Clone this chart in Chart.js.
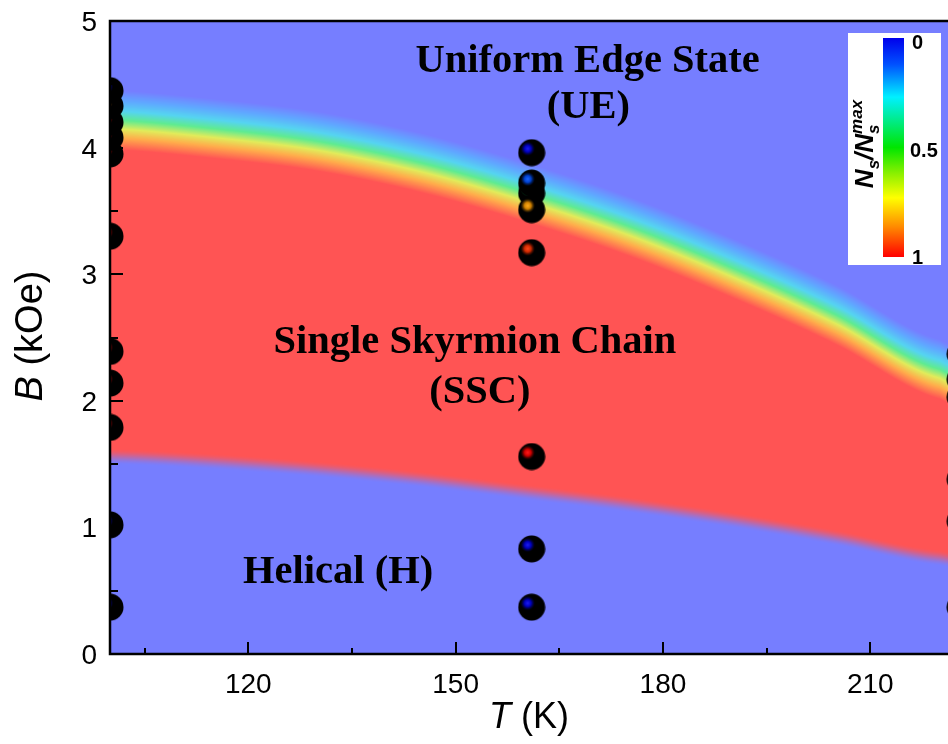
<!DOCTYPE html>
<html>
<head>
<meta charset="utf-8">
<script src="https://cdn.jsdelivr.net/npm/chart.js@4"></script>
<style>
html, body { margin: 0; padding: 0; overflow: hidden; background: #fff; }
canvas { display: block; }
</style>
</head>
<body>
<canvas id="phase" width="974" height="744"></canvas>
<script>
// phase boundaries (T in K, B in kOe)
const boundaryT = [100, 115, 130, 145, 160, 175, 190, 205, 220];
const upperB = [4.22, 4.15, 4.05, 3.88, 3.65, 3.38, 3.05, 2.68, 2.25];
const lowerB = [1.56, 1.52, 1.46, 1.38, 1.28, 1.18, 1.06, 0.92, 0.76];

// measured points, with their Ns/Ns_max
const measuredT = [100, 161, 223];
const fieldsT100 = [0.37, 1.02, 1.79, 2.14, 2.39, 3.3, 3.95, 4.08, 4.2, 4.33, 4.45];
const ratioT100 = [0, 0, 1, 1, 1, 1, 1, 1, 1, 0.85, 0];
const fieldsT161 = [0.37, 0.83, 1.56, 3.17, 3.64, 3.51, 3.72, 3.96];
const ratioT161 = [0, 0, 1, 0.95, 0.4, 0.84, 0.12, 0];
const fieldsT223 = [0.37, 1.05, 1.38, 2.03, 2.17, 2.37];
const ratioT223 = [0, 1, 1, 0.95, 0.6, 0.2];

// axis ticks
const xTicks = [120, 150, 180, 210];
const xMinor = [105, 135, 165, 195];
const yTicks = [0, 1, 2, 3, 4, 5];
const yMinor = [0.5, 1.5, 2.5, 3.5, 4.5];

const labels = [
  { text: 'Uniform Edge State', T: 169.1, B: 4.60 },
  { text: '(UE)', T: 169.2, B: 4.234 },
  { text: 'Single Skyrmion Chain', T: 152.8, B: 2.378 },
  { text: '(SSC)', T: 153.5, B: 1.983 },
  { text: 'Helical (H)', T: 133.0, B: 0.561 }
];

const bandWidth = 0.47;
const lowerBlur = 0.13;
const bg = [118, 126, 255];
const plotStops = [
  [0.00, [118, 126, 255]],
  [0.18, [95, 168, 255]],
  [0.35, [85, 212, 240]],
  [0.50, [95, 235, 145]],
  [0.65, [225, 235, 90]],
  [0.80, [255, 172, 75]],
  [1.00, [255, 84, 84]]
];
const jetStops = [
  [0.00, [0, 0, 235]],
  [0.12, [0, 80, 255]],
  [0.27, [0, 240, 255]],
  [0.50, [0, 230, 0]],
  [0.62, [140, 240, 0]],
  [0.73, [255, 255, 0]],
  [0.86, [255, 140, 0]],
  [1.00, [255, 0, 0]]
];

function ramp(stops, v) {
  for (let i = 1; i < stops.length; i++) {
    if (v <= stops[i][0]) {
      const [p0, c0] = stops[i - 1], [p1, c1] = stops[i];
      const t = (v - p0) / (p1 - p0);
      return c0.map((c, k) => c + t * (c1[k] - c));
    }
  }
  return stops[stops.length - 1][1];
}

function spline(xs, ys, x) {
  const n = xs.length;
  if (x <= xs[0]) return ys[0] + (x - xs[0]) * (ys[1] - ys[0]) / (xs[1] - xs[0]);
  if (x >= xs[n - 1]) return ys[n - 1] + (x - xs[n - 1]) * (ys[n - 1] - ys[n - 2]) / (xs[n - 1] - xs[n - 2]);
  let i = 0;
  while (x > xs[i + 1]) i++;
  const t = (x - xs[i]) / (xs[i + 1] - xs[i]);
  const p0 = ys[Math.max(i - 1, 0)], p1 = ys[i], p2 = ys[i + 1], p3 = ys[Math.min(i + 2, n - 1)];
  const t2 = t * t, t3 = t2 * t;
  return 0.5 * (2 * p1 + (p2 - p0) * t + (2 * p0 - 5 * p1 + 4 * p2 - p3) * t2 + (3 * p1 - p0 - 3 * p2 + p3) * t3);
}

function sphere(v) {
  const c = document.createElement('canvas');
  c.width = c.height = 28;
  const g = c.getContext('2d');
  g.beginPath();
  g.arc(14, 14, 13.5, 0, Math.PI * 2);
  g.fillStyle = '#000';
  g.fill();
  const col = ramp(jetStops, v).map(k => Math.round(k * 0.9));
  const grad = g.createRadialGradient(10, 10, 0, 10, 10, 7.5);
  grad.addColorStop(0, `rgb(${col.map(k => Math.min(255, k + 30)).join(',')})`);
  grad.addColorStop(0.45, `rgba(${col.join(',')},0.9)`);
  grad.addColorStop(0.8, `rgba(${col.map(k => Math.round(k * 0.4)).join(',')},0.5)`);
  grad.addColorStop(1, 'rgba(0,0,0,0)');
  g.fillStyle = grad;
  g.beginPath();
  g.arc(14, 14, 13.5, 0, Math.PI * 2);
  g.fill();
  return c;
}

const groups = [
  [measuredT[0], fieldsT100, ratioT100],
  [measuredT[1], fieldsT161, ratioT161],
  [measuredT[2], fieldsT223, ratioT223]
];
const datasets = groups.map(([T, fields, ratios]) => ({
  data: fields.map(B => ({ x: T, y: B })),
  pointStyle: ratios.map(sphere),
  pointRadius: 13.5,
  showLine: false
}));

const fieldMap = {
  id: 'fieldMap',
  beforeDatasetsDraw(chart) {
    const { ctx, chartArea: a, scales: { x, y } } = chart;
    const w = Math.round(a.right - a.left), h = Math.round(a.bottom - a.top);
    const img = ctx.createImageData(w, h);
    const lut = [];
    for (let i = 0; i <= 255; i++) lut.push(ramp(plotStops, i / 255));
    for (let i = 0; i < w; i++) {
      const T = x.getValueForPixel(a.left + i + 0.5);
      const up = spline(boundaryT, upperB, T), lo = spline(boundaryT, lowerB, T);
      for (let j = 0; j < h; j++) {
        const B = y.getValueForPixel(a.top + j + 0.5);
        const v = Math.min(1, Math.max(0, 0.5 - (B - up) / bandWidth));
        const c = lut[Math.round(v * 255)];
        let m = Math.min(1, Math.max(0, 0.5 + (lo - B) / lowerBlur));
        m = m * m * (3 - 2 * m);
        const k = (j * w + i) * 4;
        img.data[k] = c[0] + m * (bg[0] - c[0]);
        img.data[k + 1] = c[1] + m * (bg[1] - c[1]);
        img.data[k + 2] = c[2] + m * (bg[2] - c[2]);
        img.data[k + 3] = 255;
      }
    }
    ctx.putImageData(img, a.left, a.top);
  },
  afterDatasetsDraw(chart) {
    const { ctx, scales: { x, y } } = chart;
    ctx.save();
    ctx.fillStyle = '#000';
    ctx.font = 'bold 40.5px "Liberation Serif", "Times New Roman", serif';
    ctx.textAlign = 'center';
    ctx.textBaseline = 'alphabetic';
    labels.forEach(l => ctx.fillText(l.text, x.getPixelForValue(l.T), y.getPixelForValue(l.B)));

    // colour bar
    ctx.fillStyle = '#fff';
    ctx.fillRect(848, 33, 93, 232);
    const grad = ctx.createLinearGradient(0, 38, 0, 257);
    jetStops.forEach(([p, c]) => grad.addColorStop(p, `rgb(${c.join(',')})`));
    ctx.fillStyle = grad;
    ctx.fillRect(883, 38, 21, 219);
    ctx.fillStyle = '#000';
    ctx.font = 'bold 20px "Liberation Sans", Arial, sans-serif';
    ctx.textAlign = 'left';
    ctx.textBaseline = 'middle';
    ctx.fillText('0', 912, 43);
    ctx.fillText('0.5', 910, 151);
    ctx.fillText('1', 912, 258);

    const runs = [
      ['N', 26, 0, true], ['s', 17, 6, true], ['/', 26, 0, true], ['N', 26, 0, true],
      ['s', 17, 6, false], ['max', 17, -11, true]
    ];
    let total = 0;
    runs.forEach(([t, f, , adv]) => {
      ctx.font = `italic bold ${f}px "Liberation Sans", Arial, sans-serif`;
      if (adv) total += ctx.measureText(t).width;
    });
    ctx.translate(873, 144 + total / 2);
    ctx.rotate(-Math.PI / 2);
    ctx.textBaseline = 'alphabetic';
    let px = 0;
    runs.forEach(([t, f, dy, adv]) => {
      ctx.font = `italic bold ${f}px "Liberation Sans", Arial, sans-serif`;
      ctx.fillText(t, px, dy);
      if (adv) px += ctx.measureText(t).width;
    });
    ctx.restore();
  },
  afterDraw(chart) {
    const { ctx, chartArea: a, scales: { x, y } } = chart;
    ctx.save();
    ctx.strokeStyle = '#000';
    ctx.lineWidth = 2.5;
    ctx.beginPath();
    ctx.moveTo(a.right + 2, a.top);
    ctx.lineTo(a.left, a.top);
    ctx.lineTo(a.left, a.bottom);
    ctx.lineTo(a.right + 2, a.bottom);
    ctx.stroke();

    ctx.lineWidth = 2;
    ctx.beginPath();
    xTicks.forEach(v => { const p = Math.round(x.getPixelForValue(v)); ctx.moveTo(p, a.bottom); ctx.lineTo(p, a.bottom - 12); });
    xMinor.forEach(v => { const p = Math.round(x.getPixelForValue(v)); ctx.moveTo(p, a.bottom); ctx.lineTo(p, a.bottom - 6); });
    yTicks.forEach(v => { const p = Math.round(y.getPixelForValue(v)); ctx.moveTo(a.left, p); ctx.lineTo(a.left + 13, p); });
    yMinor.forEach(v => { const p = Math.round(y.getPixelForValue(v)); ctx.moveTo(a.left, p); ctx.lineTo(a.left + 8, p); });
    ctx.stroke();

    ctx.fillStyle = '#000';
    ctx.font = '28px "Liberation Sans", Arial, sans-serif';
    ctx.textBaseline = 'alphabetic';
    ctx.textAlign = 'center';
    xTicks.forEach(v => ctx.fillText(String(v), x.getPixelForValue(v), 693));
    ctx.textAlign = 'right';
    yTicks.forEach(v => ctx.fillText(String(v), 97, y.getPixelForValue(v) + 10));

    // axis titles, italic symbol + upright unit
    ctx.textAlign = 'left';
    ctx.font = 'italic 36px "Liberation Sans", Arial, sans-serif';
    const tW = ctx.measureText('T').width;
    ctx.font = '36px "Liberation Sans", Arial, sans-serif';
    const uW = ctx.measureText(' (K)').width;
    let sx = 529 - (tW + uW) / 2;
    ctx.font = 'italic 36px "Liberation Sans", Arial, sans-serif';
    ctx.fillText('T', sx, 728);
    ctx.font = '36px "Liberation Sans", Arial, sans-serif';
    ctx.fillText(' (K)', sx + tW, 728);

    ctx.translate(42, 336);
    ctx.rotate(-Math.PI / 2);
    ctx.font = 'italic 38px "Liberation Sans", Arial, sans-serif';
    const bW = ctx.measureText('B').width;
    ctx.font = '38px "Liberation Sans", Arial, sans-serif';
    const kW = ctx.measureText(' (kOe)').width;
    sx = -(bW + kW) / 2;
    ctx.font = 'italic 38px "Liberation Sans", Arial, sans-serif';
    ctx.fillText('B', sx, 0);
    ctx.font = '38px "Liberation Sans", Arial, sans-serif';
    ctx.fillText(' (kOe)', sx + bW, 0);
    ctx.restore();
  }
};

new Chart(document.getElementById('phase'), {
  type: 'scatter',
  data: { datasets },
  options: {
    responsive: false,
    animation: false,
    events: [],
    layout: { autoPadding: false, padding: { top: 21, right: 0, bottom: 0, left: 0 } },
    plugins: { legend: { display: false }, tooltip: { enabled: false } },
    scales: {
      x: {
        type: 'linear', min: 100, max: 225,
        grid: { display: false }, border: { display: false }, ticks: { display: false },
        afterFit: s => { s.height = 90; }
      },
      y: {
        type: 'linear', min: 0, max: 5,
        grid: { display: false }, border: { display: false }, ticks: { display: false },
        afterFit: s => { s.width = 110; }
      }
    }
  },
  plugins: [fieldMap]
});
</script>
</body>
</html>
